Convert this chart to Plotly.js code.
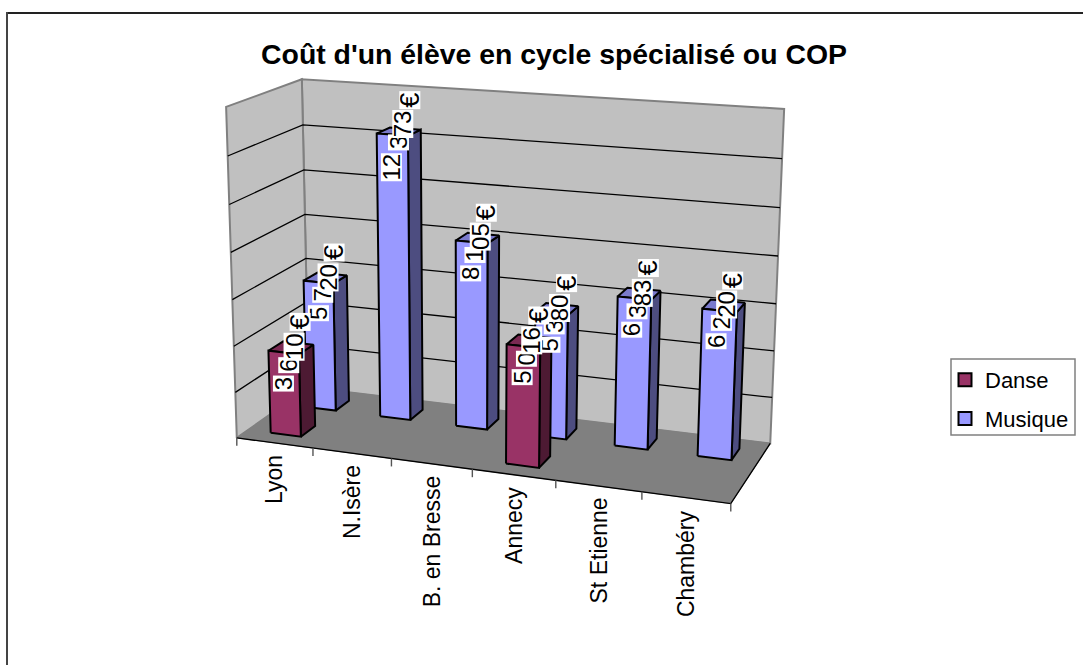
<!DOCTYPE html>
<html><head><meta charset="utf-8">
<script src="https://cdn.plot.ly/plotly-3.0.1.min.js"></script>
<style>html,body{margin:0;padding:0;background:#fff}#c{width:1083px;height:665px}</style>
</head><body><div id="c"></div>
<script>
// ---- data ----
const categories = ["Lyon","N.Isère","B. en Bresse","Annecy","St Etienne","Chambéry"];
const danse   = [3610,null,null,5016,null,null];
const musique = [5720,12373,8105,5380,6383,6220];
// how the reference splits each label into staggered pieces
const danseChunks   = [["3","6","10","€"],null,null,["5","0","16","€"],null,null];
const musiqueChunks = [["5","7","20","€"],["12","3","73","€"],["8","1","05","€"],["5","3","80","€"],["6","3","83","€"],["6","2","20","€"]];
const gridValues = [0,2000,4000,6000,8000,10000,12000,14000];
const axisMax = 14000;
const titleText = "Coût d'un élève en cycle spécialisé ou COP";

// ---- 3D projection calibrated to the picture: [u, depth, height, px, py] ----
const anchors = [
 [0,0,0,238,438],[1,0,0,730,503],[1,1,0,771,443],[0,1,0,307,387],
 [0,1,1,303,80],[1,1,1,784,109],[0,0,1,225,106],
 [1/6,0,0,314,448],[2/6,0,0,391,458],[3/6,0,0,472,470],[4/6,0,0,556,481],[5/6,0,0,642,492]
];
function solve(A,b){const n=b.length;const M=A.map((r,i)=>[...r,b[i]]);
 for(let i=0;i<n;i++){let p=i;for(let k=i+1;k<n;k++)if(Math.abs(M[k][i])>Math.abs(M[p][i]))p=k;
  [M[i],M[p]]=[M[p],M[i]];
  for(let k=0;k<n;k++){if(k===i)continue;const f=M[k][i]/M[i][i];for(let j=i;j<=n;j++)M[k][j]-=f*M[i][j];}}
 return M.map((r,i)=>r[n]/r[i]);}
function fit(){const R=[],B=[];
 anchors.forEach(([x,y,z,u,v])=>{
  R.push([x,y,z,1,0,0,0,0,-u*x,-u*y,-u*z]);B.push(u);
  R.push([0,0,0,0,x,y,z,1,-v*x,-v*y,-v*z]);B.push(v);});
 const n=11,A=[...Array(n)].map(()=>Array(n).fill(0)),b=Array(n).fill(0);
 R.forEach((r,k)=>{for(let i=0;i<n;i++){b[i]+=r[i]*B[k];for(let j=0;j<n;j++)A[i][j]+=r[i]*r[j];}});
 return solve(A,b);}
const P=fit();
function proj(x,y,z){const w=P[8]*x+P[9]*y+P[10]*z+1;
 return [(P[0]*x+P[1]*y+P[2]*z+P[3])/w,(P[4]*x+P[5]*y+P[6]*z+P[7])/w];}

const traces=[];
function poly(pts,fill,lineColor,lw,close=true){
 const p=pts.map(q=>proj(...q)); if(close)p.push(p[0]);
 traces.push({type:'scatter',mode:'lines',x:p.map(q=>q[0]),y:p.map(q=>q[1]),
  fill:fill?'toself':'none',fillcolor:fill||undefined,
  line:{color:lineColor,width:lw},showlegend:false,hoverinfo:'skip'});
}
// walls and floor
poly([[0,1,0],[1,1,0],[1,1,1],[0,1,1]],'#C0C0C0','#808080',2);
poly([[0,0,0],[0,1,0],[0,1,1],[0,0,1]],'#C0C0C0','#808080',2);
gridValues.slice(1,-1).forEach(v=>{const z=v/axisMax;
 poly([[0,0,z],[0,1,z],[1,1,z]],null,'#000',1.3,false);});
poly([[0,0,0],[1,0,0],[1,1,0],[0,1,0]],'#808080','#808080',1);
poly([[0,0,0],[1,0,0],[1,1,0]],null,'#000',1.4,false);

const W0=0.3,W1=0.7;
function bar(i,row,v,c){
 const z=v/axisMax,x0=(i+W0)/6,x1=(i+W1)/6,y0=row===0?0.15:0.65,y1=y0+0.2;
 poly([[x1,y0,0],[x1,y1,0],[x1,y1,z],[x1,y0,z]],c.side,'#000',2);
 poly([[x0,y0,z],[x1,y0,z],[x1,y1,z],[x0,y1,z]],c.top,'#000',2);
 poly([[x0,y0,0],[x1,y0,0],[x1,y0,z],[x0,y0,z]],c.front,'#000',2);
}
const cD={front:'#993366',side:'#4D1A33',top:'#7A2952'};
const cM={front:'#9999FF',side:'#4D4D80',top:'#7A7ACC'};
musique.forEach((v,i)=>{if(v!=null)bar(i,1,v,cM);});
danse.forEach((v,i)=>{if(v!=null)bar(i,0,v,cD);});

// legend entries
traces.push({type:'scatter',mode:'markers',name:'Danse',legendgroup:'a',x:[null],y:[null],
 marker:{symbol:'square',size:13,color:'#993366',line:{color:'#000',width:2}}});
traces.push({type:'scatter',mode:'markers',name:'Musique',legendgroup:'b',x:[null],y:[null],
 marker:{symbol:'square',size:13,color:'#9999FF',line:{color:'#000',width:2}}});

// ---- annotations ----
const annotations=[];
const F=22, FONT='"Liberation Sans", Arial, sans-serif';
const adv=s=>[...s].reduce((t,c)=>t+(c===' '?0.278:0.556),0);
function label(i,row,v,chunks){
 const z=v/axisMax,x=(i+.5)/6,y=(row===0?0.15:0.65)+0.1;
 const c=proj(x,y,z);
 const total=chunks.reduce((t,s)=>t+adv(s),0)+0.278*2;
 let pos=0;
 chunks.forEach((t,k)=>{
  const w=adv(t);
  const mid=(pos+w/2-total/2)*F;
  const euro=t==='€';
  annotations.push({xref:'x',yref:'y',x:c[0]+1+mid*0.27,y:c[1]+5-mid,text:t,textangle:-90,showarrow:false,
   bgcolor:'#fff',borderpad:0,width:Math.round(w*F)+(euro?5:3),height:20,
   font:{family:FONT,size:euro?27:24,color:'#000'}});
  pos+=w; if(k===0||k===2)pos+=0.278;
 });
}
musique.forEach((v,i)=>{if(v!=null)label(i,1,v,musiqueChunks[i]);});
danse.forEach((v,i)=>{if(v!=null)label(i,0,v,danseChunks[i]);});
categories.forEach((t,i)=>{const p=proj((i+.5)/6,0,0);
 annotations.push({xref:'x',yref:'y',x:p[0],y:p[1]+10,yanchor:'top',text:t,textangle:-90,showarrow:false,
  font:{family:FONT,size:23,color:'#000'}});});

// axis ticks, frame and legend box
const shapes=[];
[0,1,2,3,4,5,6].forEach(i=>{const p=proj(i/6,0,0);
 shapes.push({type:'line',xref:'x',yref:'y',x0:p[0],x1:p[0],y0:p[1],y1:p[1]+8,line:{color:'#555',width:1.4}});});
shapes.push({type:'rect',xref:'x',yref:'y',x0:951,x1:1075,y0:359,y1:435,line:{color:'#808080',width:1.5},fillcolor:'#fff',layer:'below'});
shapes.push({type:'line',xref:'x',yref:'y',x0:6,x1:1083,y0:13,y1:13,line:{color:'#222',width:2}});
shapes.push({type:'line',xref:'x',yref:'y',x0:7,x1:7,y0:12,y1:665,line:{color:'#444',width:2}});

Plotly.newPlot('c',traces,{
 width:1083,height:665,margin:{l:0,r:0,t:0,b:0},paper_bgcolor:'#fff',plot_bgcolor:'#fff',
 xaxis:{range:[0,1083],visible:false,fixedrange:true},
 yaxis:{range:[665,0],visible:false,fixedrange:true},
 title:{text:titleText,x:554/1083,xanchor:'center',y:1-54/665,yanchor:'middle',font:{family:FONT,size:28.4,color:'#000',weight:'bold'}},
 showlegend:true,
 legend:{x:945/1083,y:1-359/665,xanchor:'left',yanchor:'top',bgcolor:'rgba(0,0,0,0)',borderwidth:0,
  font:{family:FONT,size:22,color:'#000'},tracegroupgap:7},
 annotations,shapes
},{displayModeBar:false,staticPlot:true});
</script></body></html>
